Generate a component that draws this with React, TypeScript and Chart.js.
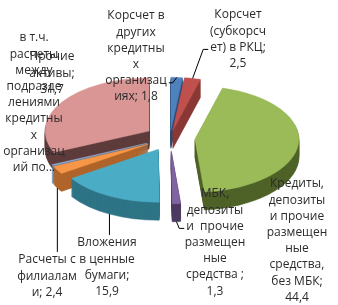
import React, { useEffect, useRef } from "react";
import { Chart, registerables } from "chart.js";

Chart.register(...registerables);

// ---- data ----
const categories = [
  "Корсчет в других кредитных организациях",
  "Корсчет (субкорсчет) в РКЦ",
  "Кредиты, депозиты и прочие размещенные средства, без МБК",
  "МБК, депозиты и прочие размещенные средства",
  "Вложения в ценные бумаги",
  "Расчеты с филиалами",
  "в т.ч. расчеты между подразделениями кредитных организаций по...",
  "Прочие активы",
];
const values = [1.8, 2.5, 44.4, 1.3, 15.9, 2.4, 0.3, 31.7];
const labelLines = [
  ["Корсчет в", "других", "кредитны", "х", "организац", "иях; {v}"],
  ["Корсчет", "(субкорсч", "ет) в РКЦ;", "{v}"],
  ["Кредиты,", "депозиты", "и прочие", "размещен", "ные", "средства,", "без МБК;", "{v}"],
  ["МБК,", "депозиты", "и  прочие", "размещен", "ные", "средства ;", "{v}"],
  ["Вложения", "в ценные", "бумаги;", "{v}"],
  ["Расчеты с", "филиалам", "и; {v}"],
  ["в т.ч.", "расчеты", "между", "подразде", "лениями", "кредитны", "х", "организац", "ий по..."],
  ["Прочие", "активы;", "{v}"],
];

// ---- styles ----
const topColors = ["#4F81BD", "#C0504D", "#9BBB59", "#8064A2", "#4BACC6", "#F79646", "#95B3D7", "#D99694"];
const sideColors = ["#2C4D75", "#8A3836", "#4F6228", "#4B3A61", "#2E7486", "#B0642A", "#5F7FA8", "#5E3C3C"];
const explode = [15, 15, 25, 25, 25, 25, 25, 25];
const SQUASH = 0.51;
const DEPTH = 18;
const RADIUS = 104;
const FONT = '12px "Open Sans"';
const LINE_H = 16.2;
// label placement relative to pie centre: [dx of text centre, dy of first line], leader attachment
const labelLayout: { dx: number; dy: number; leader: null | { kind: string; line?: number } }[] = [
  { dx: -34, dy: -122, leader: { kind: "right", line: 4 } },
  { dx: 68, dy: -123, leader: { kind: "left", line: 2 } },
  { dx: 127, dy: 46, leader: null },
  { dx: 45, dy: 56, leader: { kind: "left", line: 2 } },
  { dx: -63, dy: 105, leader: { kind: "top" } },
  { dx: -123, dy: 122, leader: { kind: "top" } },
  { dx: -136, dy: -100, leader: null },
  { dx: -118, dy: -81, leader: null },
];

const fmt = (v: number) => v.toFixed(1).replace(".", ",");

const pie3d = {
  id: "pie3d",
  beforeDatasetsDraw(chart: any) {
    const ctx = chart.ctx;
    const meta = chart.getDatasetMeta(0);
    const arcs = meta.data as any[];
    if (!arcs.length) return false;
    const cx = arcs[0].x;
    const cy = arcs[0].y;
    const order = arcs
      .map((a, i) => ({ a, i, s: Math.sin((a.startAngle + a.endAngle) / 2) }))
      .sort((p, q) => p.s - q.s);
    const drawArc = (a: any, color: string, shiftY: number, e: number) => {
      const mid = (a.startAngle + a.endAngle) / 2;
      ctx.save();
      ctx.translate(0, shiftY);
      ctx.translate(cx, cy);
      ctx.scale(1, SQUASH);
      ctx.translate(-cx, -cy);
      ctx.translate(Math.cos(mid) * e, Math.sin(mid) * e);
      const o = a.options;
      a.options = { ...o, backgroundColor: color, borderColor: color, borderWidth: 0.6 };
      a.draw(ctx);
      a.options = o;
      ctx.restore();
    };
    for (const { a, i } of order) {
      for (let d = DEPTH; d >= 1; d--) drawArc(a, sideColors[i], d, explode[i]);
      drawArc(a, topColors[i], 0, explode[i]);
    }
    return false;
  },
  afterDraw(chart: any) {
    const ctx = chart.ctx;
    const meta = chart.getDatasetMeta(0);
    const arcs = meta.data as any[];
    if (!arcs.length) return;
    const cx = arcs[0].x;
    const cy = arcs[0].y;
    ctx.save();
    ctx.font = FONT;
    ctx.textAlign = "center";
    ctx.textBaseline = "middle";
    arcs.forEach((a, i) => {
      const lay = labelLayout[i];
      const lines = labelLines[i].map((t) => t.replace("{v}", fmt(values[i])));
      const lx = cx + lay.dx;
      const ly = cy + lay.dy;
      if (lay.leader) {
        const mid = (a.startAngle + a.endAngle) / 2;
        const r = explode[i] + a.outerRadius;
        const s = Math.sin(mid);
        const sp = { x: cx + Math.cos(mid) * r, y: cy + s * r * SQUASH + (s > 0 ? DEPTH : 0) };
        const pts: { x: number; y: number }[] = [sp];
        if (lay.leader.kind === "top") {
          pts.push({ x: sp.x, y: ly - LINE_H / 2 });
        } else {
          const li = lay.leader.line || 0;
          const w = ctx.measureText(lines[li]).width;
          const yy = ly + li * LINE_H + 2;
          if (lay.leader.kind === "left") {
            const xl = lx - w / 2 - 2;
            pts.push({ x: xl - 5, y: yy }, { x: xl, y: yy });
          } else {
            const xr = lx + w / 2 + 2;
            pts.push({ x: xr + 4, y: yy }, { x: xr, y: yy });
          }
        }
        ctx.strokeStyle = "#000";
        ctx.lineWidth = 1;
        ctx.beginPath();
        pts.forEach((p, k) => (k ? ctx.lineTo(p.x, p.y) : ctx.moveTo(p.x, p.y)));
        ctx.stroke();
      }
      ctx.fillStyle = "#2b2b2b";
      lines.forEach((t, k) => ctx.fillText(t, lx, ly + k * LINE_H));
    });
    ctx.restore();
  },
};

export default function App() {
  const ref = useRef<HTMLCanvasElement>(null);
  useEffect(() => {
    if (!ref.current) return;
    const chart = new Chart(ref.current, {
      type: "pie",
      data: {
        labels: categories,
        datasets: [
          {
            data: values,
            backgroundColor: topColors,
            borderWidth: 0,
            hoverOffset: 0,
          },
        ],
      },
      options: {
        responsive: false,
        animation: false,
        devicePixelRatio: 1,
        radius: RADIUS,
        layout: { padding: { left: 2, right: 0, top: 0, bottom: 29 } },
        plugins: { legend: { display: false }, tooltip: { enabled: false } },
        events: [],
      } as any,
      plugins: [pie3d],
    });
    return () => chart.destroy();
  }, []);
  return (
    <div style={{ position: "fixed", left: 0, top: 0, width: 338, height: 305, background: "#fff" }}>
      <canvas ref={ref} width={338} height={305} style={{ display: "block" }} />
    </div>
  );
}
